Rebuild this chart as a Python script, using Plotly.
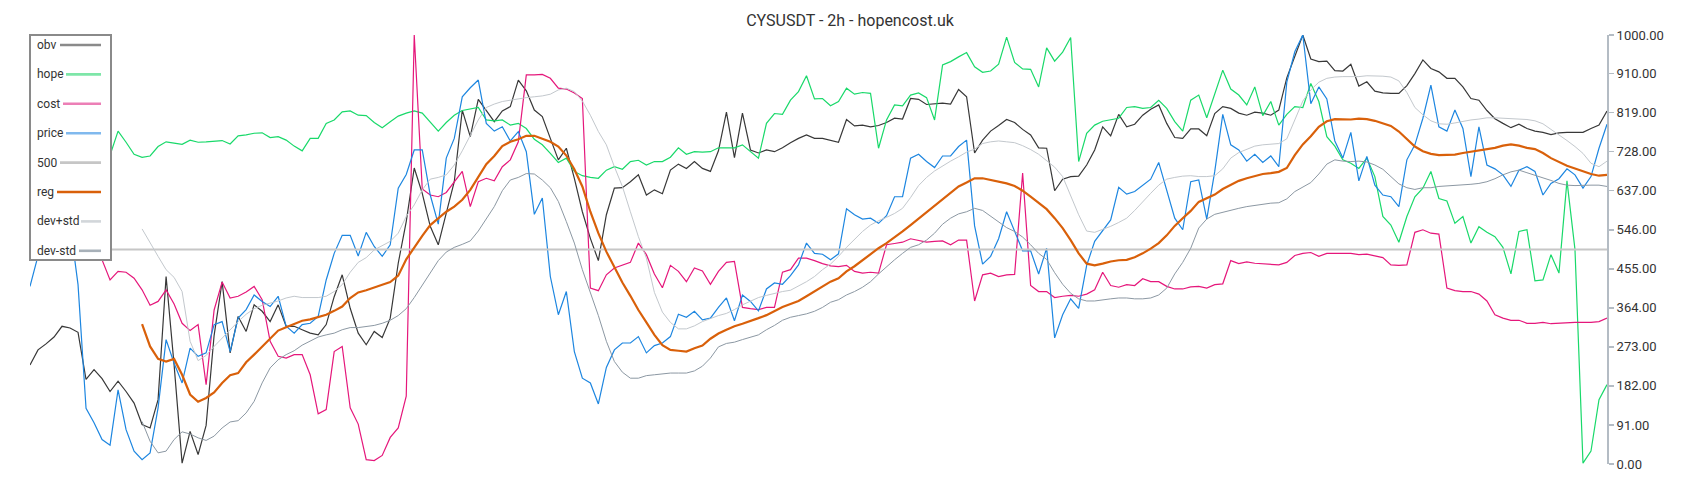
import plotly.graph_objects as go

# ---------------- data ----------------
idx = list(range(198))  # time index (2h candles)

obv = [231, 266, 280, 296, 321, 317, 307, 197, 220, 199,
       169, 193, 169, 142, 92, 84, 150, 437, 231, 2,
       76, 22, 90, 300, 425, 259, 344, 309, 371, 356,
       332, 371, 321, 321, 313, 305, 301, 325, 390, 441,
       363, 305, 278, 309, 295, 340, 468, 565, 690, 631,
       554, 511, 585, 658, 825, 763, 850, 823, 798, 823,
       833, 895, 870, 825, 810, 759, 709, 736, 666, 588,
       526, 474, 581, 643, 644, 658, 674, 627, 639, 630,
       685, 699, 689, 705, 689, 682, 730, 820, 714, 818,
       732, 725, 732, 728, 737, 749, 759, 767, 759, 759,
       754, 750, 803, 788, 790, 786, 789, 796, 806, 804,
       852, 850, 838, 839, 841, 839, 873, 856, 725, 755,
       776, 789, 803, 796, 780, 767, 737, 736, 637, 664,
       670, 671, 697, 732, 786, 765, 815, 786, 792, 813,
       827, 837, 794, 761, 759, 781, 781, 765, 817, 833,
       829, 818, 813, 820, 818, 813, 825, 900, 949, 1000,
       944, 938, 939, 917, 916, 932, 881, 891, 869, 865,
       864, 864, 882, 910, 942, 922, 914, 899, 899, 879,
       852, 848, 824, 805, 794, 784, 792, 782, 776, 773,
       768, 772, 773, 773, 773, 782, 790, 823]

hope = [720, 722, 718, 715, 720, 725, 722, 718, 720, 716,
        720, 776, 750, 722, 715, 718, 740, 751, 748, 745,
        755, 750, 751, 753, 754, 746, 765, 767, 771, 772,
        761, 763, 755, 741, 730, 759, 759, 794, 802, 821,
        823, 813, 812, 796, 784, 798, 811, 818, 823, 818,
        798, 776, 796, 813, 824, 828, 831, 802, 800, 802,
        790, 794, 782, 757, 744, 724, 703, 713, 682, 672,
        668, 666, 685, 693, 687, 705, 708, 697, 705, 705,
        715, 737, 722, 728, 727, 728, 737, 737, 737, 744,
        728, 713, 794, 817, 815, 848, 868, 905, 851, 852,
        835, 845, 876, 862, 866, 864, 736, 802, 837, 835,
        860, 865, 854, 802, 930, 938, 949, 959, 926, 913,
        916, 932, 995, 936, 921, 920, 879, 970, 939, 960,
        994, 705, 771, 790, 799, 802, 806, 831, 833, 829,
        831, 848, 829, 798, 776, 848, 860, 807, 860, 918,
        874, 860, 837, 879, 812, 845, 790, 815, 833, 831,
        887, 845, 763, 741, 709, 701, 689, 713, 670, 577,
        557, 517, 577, 623, 643, 682, 619, 613, 561, 577,
        515, 553, 540, 530, 505, 443, 542, 546, 427, 429,
        488, 445, 660, 500, 2, 30, 150, 185]

cost = [480, 478, 482, 485, 480, 476, 478, 480, 476, 476,
        429, 449, 447, 433, 406, 370, 379, 406, 373, 328,
        311, 325, 185, 359, 424, 387, 391, 401, 414, 383,
        286, 251, 247, 255, 255, 208, 117, 127, 262, 274,
        131, 93, 10, 8, 20, 62, 84, 158, 1000, 641,
        627, 623, 633, 657, 682, 600, 658, 666, 660, 693,
        709, 751, 907, 907, 908, 899, 876, 874, 865, 852,
        410, 404, 441, 457, 463, 470, 515, 488, 443, 411,
        463, 449, 425, 457, 450, 419, 449, 470, 472, 365,
        362, 360, 365, 365, 447, 453, 480, 480, 474, 467,
        462, 460, 463, 449, 445, 447, 445, 511, 514, 517,
        525, 521, 517, 519, 520, 511, 522, 522, 380, 441,
        445, 437, 441, 442, 678, 416, 402, 402, 388, 391,
        393, 391, 396, 406, 447, 416, 412, 418, 416, 432,
        425, 425, 414, 408, 408, 413, 414, 410, 418, 420,
        474, 467, 471, 468, 467, 466, 464, 470, 486, 491,
        493, 484, 491, 491, 491, 491, 488, 489, 485, 481,
        464, 463, 464, 540, 546, 538, 536, 410, 404, 402,
        402, 396, 380, 348, 340, 335, 335, 328, 328, 330,
        327, 328, 330, 330, 330, 330, 332, 340]

price = [414, 485, 580, 600, 590, 560, 418, 130, 96, 57,
         44, 173, 80, 30, 10, 26, 131, 290, 235, 189,
         270, 251, 259, 325, 332, 262, 340, 360, 394, 379,
         367, 391, 321, 305, 325, 328, 344, 429, 491, 533,
         533, 485, 540, 507, 484, 511, 643, 675, 732, 732,
         627, 559, 713, 759, 856, 877, 895, 794, 776, 786,
         753, 775, 728, 582, 620, 437, 348, 402, 262, 200,
         189, 140, 225, 266, 282, 282, 297, 259, 276, 282,
         297, 349, 342, 356, 336, 340, 365, 387, 334, 394,
         379, 357, 408, 422, 419, 439, 464, 515, 491, 489,
         476, 490, 595, 581, 571, 573, 561, 579, 623, 623,
         713, 722, 705, 691, 718, 718, 740, 755, 555, 466,
         484, 525, 588, 542, 497, 497, 443, 503, 294, 348,
         385, 363, 463, 519, 545, 569, 645, 629, 635, 650,
         664, 703, 635, 573, 546, 658, 662, 571, 682, 815,
         744, 732, 706, 722, 703, 718, 693, 890, 961, 1000,
         840, 879, 851, 753, 713, 773, 660, 717, 650, 627,
         623, 600, 709, 744, 806, 883, 786, 776, 825, 782,
         670, 786, 697, 688, 674, 647, 685, 693, 682, 627,
         654, 665, 688, 674, 643, 670, 736, 792]

level_500 = 500

reg = [None] * 14 + [
    326, 274, 245, 239, 245, 208,
    162, 145, 154, 167, 189, 207, 212, 237, 255, 274,
    294, 311, 319, 327, 334, 337, 342, 348, 357, 367,
    387, 400, 405, 412, 418, 424, 439, 477, 505, 532,
    557, 573, 588, 600, 616, 639, 670, 699, 718, 741,
    751, 757, 765, 765, 758, 751, 740, 719, 687, 647,
    588, 538, 495, 458, 423, 392, 359, 330, 301, 277,
    266, 264, 262, 270, 276, 292, 304, 313, 321, 327,
    333, 340, 347, 356, 366, 373, 380, 391, 403, 415,
    425, 433, 449, 461, 475, 491, 503, 515, 528, 542,
    557, 572, 588, 603, 619, 633, 647, 656, 666, 666,
    662, 657, 654, 648, 637, 623, 609, 594, 573, 550,
    522, 491, 467, 463, 467, 472, 475, 476, 482, 491,
    502, 515, 533, 555, 573, 590, 611, 619, 628, 641,
    650, 660, 666, 671, 676, 678, 681, 690, 720, 745,
    764, 786, 799, 804, 803, 803, 805, 804, 800, 794,
    788, 775, 757, 740, 729, 723, 720, 720, 721, 725,
    728, 730, 733, 737, 742, 745, 742, 737, 734, 725,
    713, 703, 695, 689, 682, 676, 672, 674]

dev_plus_std = [None] * 14 + [
    548, 515, 484, 453, 435, 402,
    286, 241, 253, 274, 294, 313, 332, 349, 362, 370,
    375, 380, 387, 391, 388, 388, 388, 391, 402, 418,
    447, 470, 481, 499, 509, 519, 538, 577, 604, 639,
    664, 668, 674, 697, 730, 767, 802, 831, 839, 845,
    848, 852, 854, 856, 858, 862, 872, 876, 868, 846,
    813, 775, 744, 693, 647, 588, 530, 480, 400, 354,
    330, 315, 315, 322, 332, 339, 346, 351, 360, 371,
    380, 388, 393, 398, 402, 405, 415, 425, 437, 453,
    466, 484, 505, 524, 542, 557, 567, 575, 584, 596,
    621, 649, 668, 683, 695, 706, 716, 727, 734, 747,
    751, 753, 751, 749, 742, 733, 722, 707, 692, 670,
    627, 581, 543, 540, 547, 554, 563, 573, 591, 612,
    631, 650, 664, 668, 671, 672, 670, 670, 672, 688,
    713, 726, 733, 741, 744, 745, 747, 758, 802, 846,
    872, 890, 899, 902, 903, 903, 903, 905, 905, 904,
    902, 893, 866, 831, 814, 800, 793, 792, 795, 799,
    802, 804, 807, 807, 806, 805, 804, 803, 800, 793,
    780, 768, 754, 740, 724, 701, 693, 706]

dev_minus_std = [None] * 14 + [
    99, 53, 26, 30, 57, 75,
    70, 61, 55, 65, 84, 98, 101, 119, 146, 189,
    224, 243, 255, 264, 277, 286, 296, 301, 305, 313,
    318, 318, 320, 323, 328, 335, 346, 362, 388, 416,
    447, 474, 494, 505, 512, 520, 543, 571, 600, 637,
    662, 668, 677, 676, 662, 644, 612, 565, 515, 453,
    402, 346, 286, 239, 214, 200, 200, 206, 208, 210,
    212, 212, 212, 217, 228, 247, 273, 281, 284, 290,
    295, 301, 313, 323, 335, 342, 346, 350, 356, 365,
    377, 383, 394, 402, 412, 425, 443, 460, 476, 491,
    505, 511, 522, 538, 559, 573, 583, 588, 596, 591,
    577, 563, 551, 542, 529, 511, 491, 477, 446, 419,
    398, 385, 380, 380, 383, 385, 387, 387, 385, 385,
    387, 394, 410, 443, 470, 503, 550, 571, 582, 587,
    591, 596, 600, 603, 606, 608, 609, 618, 635, 645,
    656, 676, 699, 709, 706, 705, 706, 704, 697, 687,
    670, 653, 644, 640, 644, 644, 647, 648, 650, 650,
    652, 654, 658, 665, 674, 681, 685, 679, 673, 668,
    661, 654, 650, 649, 650, 650, 650, 647]

tick_vals = [0, 91, 182, 273, 364, 455, 546, 637, 728, 819, 910, 1000]
tick_text = ["0.00", "91.00", "182.00", "273.00", "364.00", "455.00",
             "546.00", "637.00", "728.00", "819.00", "910.00", "1000.00"]

title_text = "CYSUSDT - 2h - hopencost.uk"

# ---------------- styling ----------------
FONT = "Roboto, 'Open Sans', Arial, sans-serif"
W, H = 1700, 500
ML, MR, MT, MB = 30, 93, 35, 36
PW, PH = W - ML - MR, H - MT - MB

series = [
    ("obv", obv, "#383838", 1.2, "#8a8a8a"),
    ("hope", hope, "#19d96a", 1.2, "#7ee6a8"),
    ("cost", cost, "#e5177b", 1.2, "#ec7fb6"),
    ("price", price, "#1d86e0", 1.2, "#80b9ee"),
    ("500", [level_500] * len(idx), "#c6c6c6", 2.0, "#c6c6c6"),
    ("reg", reg, "#d9600a", 2.2, "#d9600a"),
    ("dev+std", dev_plus_std, "#c3c8cd", 1.0, "#d2d6da"),
    ("dev-std", dev_minus_std, "#8c98a3", 1.0, "#a7b0b8"),
]

fig = go.Figure()
for name, ys, color, width, _ in series:
    fig.add_trace(go.Scatter(x=idx, y=ys, name=name, mode="lines",
                             line=dict(color=color, width=width),
                             connectgaps=False, showlegend=False,
                             hoverinfo="skip"))


def px_x(x):
    return (x - ML) / PW


def px_y(y):
    return (H - MB - y) / PH


# custom legend (label left, swatch right) drawn over the plot
shapes = [dict(type="rect", xref="paper", yref="paper",
               x0=px_x(30), x1=px_x(111), y0=px_y(260), y1=px_y(35),
               fillcolor="white", line=dict(color="#8a8a8a", width=2),
               layer="above")]
annotations = []
swatch_start = [60, 66, 63, 66, 60, 57, 81, 79]
for k, (name, _, _, _, lcol) in enumerate(series):
    yc = 45 + 29.4 * k
    shapes.append(dict(type="line", xref="paper", yref="paper",
                       x0=px_x(swatch_start[k]), x1=px_x(101),
                       y0=px_y(yc), y1=px_y(yc),
                       line=dict(color=lcol, width=2.6), layer="above"))
    annotations.append(dict(text=name, xref="paper", yref="paper",
                            x=px_x(35), y=px_y(yc), xanchor="left",
                            yanchor="middle", showarrow=False,
                            font=dict(family=FONT, size=12, color="#333333")))

fig.update_layout(
    width=W, height=H,
    margin=dict(l=ML, r=MR, t=MT, b=MB),
    paper_bgcolor="white", plot_bgcolor="white",
    title=dict(text=title_text, x=0.5, xref="container", xanchor="center",
               y=1 - 20 / H, yref="container", yanchor="middle",
               font=dict(family=FONT, size=16, color="#333333")),
    xaxis=dict(visible=False, range=[0, len(idx) - 1]),
    yaxis=dict(side="right", range=[0, 1000], showgrid=False, zeroline=False,
               showline=True, linecolor="#b4bcc4", linewidth=2,
               ticks="outside", ticklen=5, tickwidth=1.5, tickcolor="#b4bcc4",
               tickvals=tick_vals, ticktext=tick_text,
               tickfont=dict(family=FONT, size=13, color="#333333")),
    shapes=shapes, annotations=annotations,
    showlegend=False,
    hovermode=False,
)

fig.write_html("out.html",
               config={"displayModeBar": False, "staticPlot": True},
               post_script="document.body.style.margin='0';"
                           "document.body.style.overflow='hidden';")
